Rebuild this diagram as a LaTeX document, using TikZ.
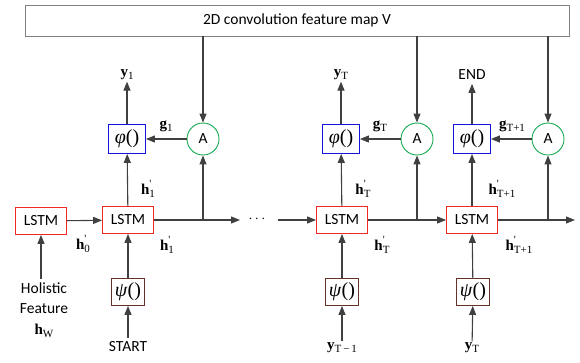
\documentclass[tikz,border=0pt]{standalone}
\usepackage{fontspec}
\setmainfont{Carlito}
\newfontfamily\tnr{Liberation Serif}
\usetikzlibrary{arrows.meta}
\definecolor{lstmred}{RGB}{240,40,40}
\definecolor{phiblue}{RGB}{20,20,220}
\definecolor{attgreen}{RGB}{20,170,80}
\definecolor{psibrown}{RGB}{100,50,40}
\definecolor{arrowgray}{RGB}{64,64,64}
% bold letter with subscript, optional prime
\newcommand{\vsub}[2]{{\tnr\textbf{#1}\raisebox{-0.45ex}{\fontsize{11}{11}\selectfont #2}}}
\newcommand{\vprime}[2]{{\tnr\textbf{#1}\makebox[0pt][l]{\raisebox{0.95ex}{\fontsize{11}{11}\selectfont\textquotesingle}}\raisebox{-0.45ex}{\fontsize{11}{11}\selectfont #2}}}
\newcommand{\fnbox}[1]{{\tnr\textit{#1}()}}
\tikzset{
  lstm/.style={draw=lstmred, line width=0.9pt, minimum width=51pt, minimum height=27pt, inner sep=0pt},
  phibox/.style={draw=phiblue, line width=0.9pt, minimum width=37pt, minimum height=29pt, inner sep=0pt, font=\fontsize{20}{20}\selectfont},
  psibox/.style={draw=psibrown, line width=0.9pt, minimum width=33pt, minimum height=27pt, inner sep=0pt, font=\fontsize{20}{20}\selectfont},
  att/.style={circle, draw=attgreen, line width=0.9pt, minimum size=32pt, inner sep=0pt},
  lbl/.style={font=\fontsize{15}{15}\selectfont, inner sep=1pt},
}
\begin{document}
\begin{tikzpicture}[x=1pt, y=-1pt, font=\fontsize{15.5}{20}\selectfont,
    line width=1.1pt, draw=arrowgray]
  \useasboundingbox (0,0) rectangle (580,362);
  \draw
    (297,20.5) node[draw=gray, line width=0.8pt, minimum width=544pt, minimum height=31pt] (V){2D convolution feature map V}
    (41,221) node[lstm] (L0){LSTM}
    (128,220) node[lstm] (L1){LSTM}
    (342,220) node[lstm] (LT){LSTM}
    (472,220) node[lstm] (LU){LSTM}
    (127,139) node[phibox] (P1){\fnbox{φ}}
    (341,139) node[phibox] (PT){\fnbox{φ}}
    (472,139) node[phibox] (PU){\fnbox{φ}}
    (203,139) node[att] (A1){A}
    (417,139) node[att] (AT){A}
    (548,139) node[att] (AU){A}
    (128,292) node[psibox] (S1){\fnbox{ψ}}
    (342,292) node[psibox] (ST){\fnbox{ψ}}
    (473,292) node[psibox] (SU){\fnbox{ψ}}
    (127,75) node[lbl] (y1){\vsub{y}{1}}
    (341,75) node[lbl] (yT){\vsub{y}{T}}
    (472,75) node (end){END}
    (128,347) node (start){START}
    (342,348) node[lbl] (yTm){\vsub{y}{T\,−\,1}}
    (472,348) node[lbl] (yTT){\vsub{y}{T}}
    (44,310) node[align=center] (hw){Holistic\\Feature\\[1pt]{\fontsize{15}{15}\selectfont\vsub{h}{W}}}
    (257,219) node (dots){$\cdots$}
    (166,126) node[lbl] (g1){\vsub{g}{1}}
    (380,126) node[lbl] (gT){\vsub{g}{T}}
    (512,126) node[lbl] (gU){\vsub{g}{T+1}}
    (83,244) node[lbl] (h0){\vprime{h}{0}}
    (148,189) node[lbl] (h1a){\vprime{h}{1}}
    (167,245) node[lbl] (h1b){\vprime{h}{1}}
    (363,189) node[lbl] (hTa){\vprime{h}{T}}
    (382,245) node[lbl] (hTb){\vprime{h}{T}}
    (502,189) node[lbl] (hUa){\vprime{h}{T+1}}
    (519,245) node[lbl] (hUb){\vprime{h}{T+1}};
  \coordinate (e1) at (240,220);
  \coordinate (s2) at (278,220);
  \coordinate (e3) at (575,220);
  \begin{scope}[-{Triangle[length=9pt,width=7pt]}, color=arrowgray]
    \draw (A1 |- V.south) to (A1);
    \draw (AT |- V.south) to (AT);
    \draw (AU |- V.south) to (AU);
    \draw (A1) to (P1);
    \draw (AT) to (PT);
    \draw (AU) to (PU);
    \draw (P1) to (y1);
    \draw (PT) to (yT);
    \draw (PU) to (end);
    \draw (L1) to (P1);
    \draw (LT) to (PT);
    \draw (LU) to (PU);
    \draw (A1 |- L1) to (A1);
    \draw (AT |- LT) to (AT);
    \draw (AU |- LU) to (AU);
    \draw (L0) to (L1);
    \draw (L1) to (e1);
    \draw (s2) to (LT);
    \draw (LT) to (LU);
    \draw (LU) to (e3);
    \draw (S1) to (L1);
    \draw (ST) to (LT);
    \draw (SU) to (LU);
    \draw (start) to (S1);
    \draw (yTm) to (ST);
    \draw (yTT) to (SU);
    \draw (L0 |- hw.north) to (L0);
  \end{scope}
\end{tikzpicture}
\end{document}
